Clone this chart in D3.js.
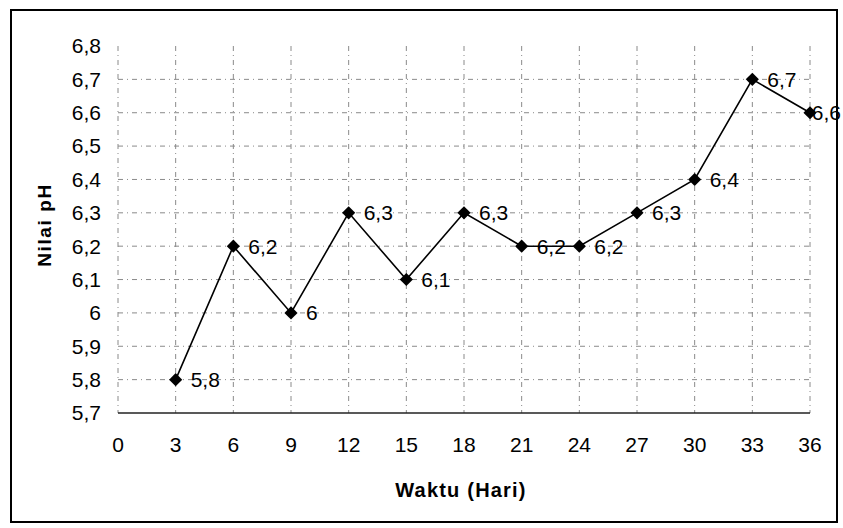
<!DOCTYPE html>
<html>
<head>
<meta charset="utf-8">
<script src="https://cdn.jsdelivr.net/npm/d3@7"></script>
<style>
  body { margin: 0; background: #fff; }
  svg { font-family: "Liberation Sans", Arial, sans-serif; }
</style>
</head>
<body>
<div id="wrapper"></div>
<script>
// pH values
const days = [3, 6, 9, 12, 15, 18, 21, 24, 27, 30, 33, 36];
const ph = [5.8, 6.2, 6.0, 6.3, 6.1, 6.3, 6.2, 6.2, 6.3, 6.4, 6.7, 6.6];
const xTicks = [0, 3, 6, 9, 12, 15, 18, 21, 24, 27, 30, 33, 36];
const yTicks = [5.7, 5.8, 5.9, 6.0, 6.1, 6.2, 6.3, 6.4, 6.5, 6.6, 6.7, 6.8];

const width = 843, height = 528;
const margin = {top: 46, right: 33, bottom: 115, left: 118};

const fmt = v => String(+v.toFixed(1)).replace(".", ",");

const svg = d3.select("#wrapper").append("svg")
  .attr("width", width)
  .attr("height", height);

// outer frame
svg.append("rect")
  .attr("x", 11).attr("y", 10)
  .attr("width", 826).attr("height", 512)
  .attr("fill", "none")
  .attr("stroke", "#000")
  .attr("stroke-width", 2);

const x = d3.scaleLinear().domain([0, 36]).range([margin.left, width - margin.right]);
const y = d3.scaleLinear().domain([5.7, 6.8]).range([height - margin.bottom, margin.top]);

// grid
const grid = svg.append("g")
  .attr("stroke", "#8a8a8a")
  .attr("stroke-width", 1)
  .attr("stroke-dasharray", "5,4,1,4");

grid.selectAll("line.h")
  .data(yTicks.filter(d => d > 5.75 && d < 6.75))
  .join("line")
  .attr("x1", x(0)).attr("x2", x(36))
  .attr("y1", d => y(d)).attr("y2", d => y(d));

grid.selectAll("line.v")
  .data(xTicks)
  .join("line")
  .attr("x1", d => x(d)).attr("x2", d => x(d))
  .attr("y1", y(6.8)).attr("y2", y(5.7));

// x axis line
svg.append("line")
  .attr("x1", x(0)).attr("x2", x(36))
  .attr("y1", y(5.7)).attr("y2", y(5.7))
  .attr("stroke", "#222")
  .attr("stroke-width", 1.5);

// tick labels
svg.append("g")
  .attr("font-size", 21)
  .attr("text-anchor", "end")
  .selectAll("text")
  .data(yTicks)
  .join("text")
  .attr("x", x(0) - 17)
  .attr("y", d => y(d))
  .attr("dy", "0.35em")
  .text(fmt);

svg.append("g")
  .attr("font-size", 21)
  .attr("text-anchor", "middle")
  .selectAll("text")
  .data(xTicks)
  .join("text")
  .attr("x", d => x(d))
  .attr("y", y(5.7) + 39)
  .text(d => d);

// axis titles
svg.append("text")
  .attr("x", 461)
  .attr("y", 497)
  .attr("text-anchor", "middle")
  .attr("font-size", 20)
  .attr("font-weight", "bold")
  .attr("letter-spacing", 1.2)
  .text("Waktu (Hari)");

svg.append("text")
  .attr("transform", "translate(51,225) rotate(-90)")
  .attr("text-anchor", "middle")
  .attr("font-size", 19)
  .attr("font-weight", "bold")
  .attr("letter-spacing", 1.6)
  .text("Nilai pH");

// series line
const line = d3.line().x((d, i) => x(days[i])).y(d => y(d));
svg.append("path")
  .datum(ph)
  .attr("fill", "none")
  .attr("stroke", "#000")
  .attr("stroke-width", 1.6)
  .attr("d", line);

// diamond markers
svg.append("g")
  .selectAll("path")
  .data(ph)
  .join("path")
  .attr("transform", (d, i) => `translate(${x(days[i])},${y(d)})`)
  .attr("d", d3.symbol(d3.symbolDiamond2, 110))
  .attr("fill", "#000");

// data labels, pushed back inside the frame when they would overflow
svg.append("g")
  .attr("font-size", 21)
  .selectAll("text")
  .data(ph)
  .join("text")
  .attr("x", (d, i) => x(days[i]) + 15)
  .attr("y", d => y(d))
  .attr("dy", "0.35em")
  .text(fmt)
  .each(function() {
    const t = d3.select(this);
    const w = this.getComputedTextLength();
    const x0 = +t.attr("x");
    if (x0 + w > width - 2) t.attr("x", width - 2 - w);
  });
</script>
</body>
</html>
